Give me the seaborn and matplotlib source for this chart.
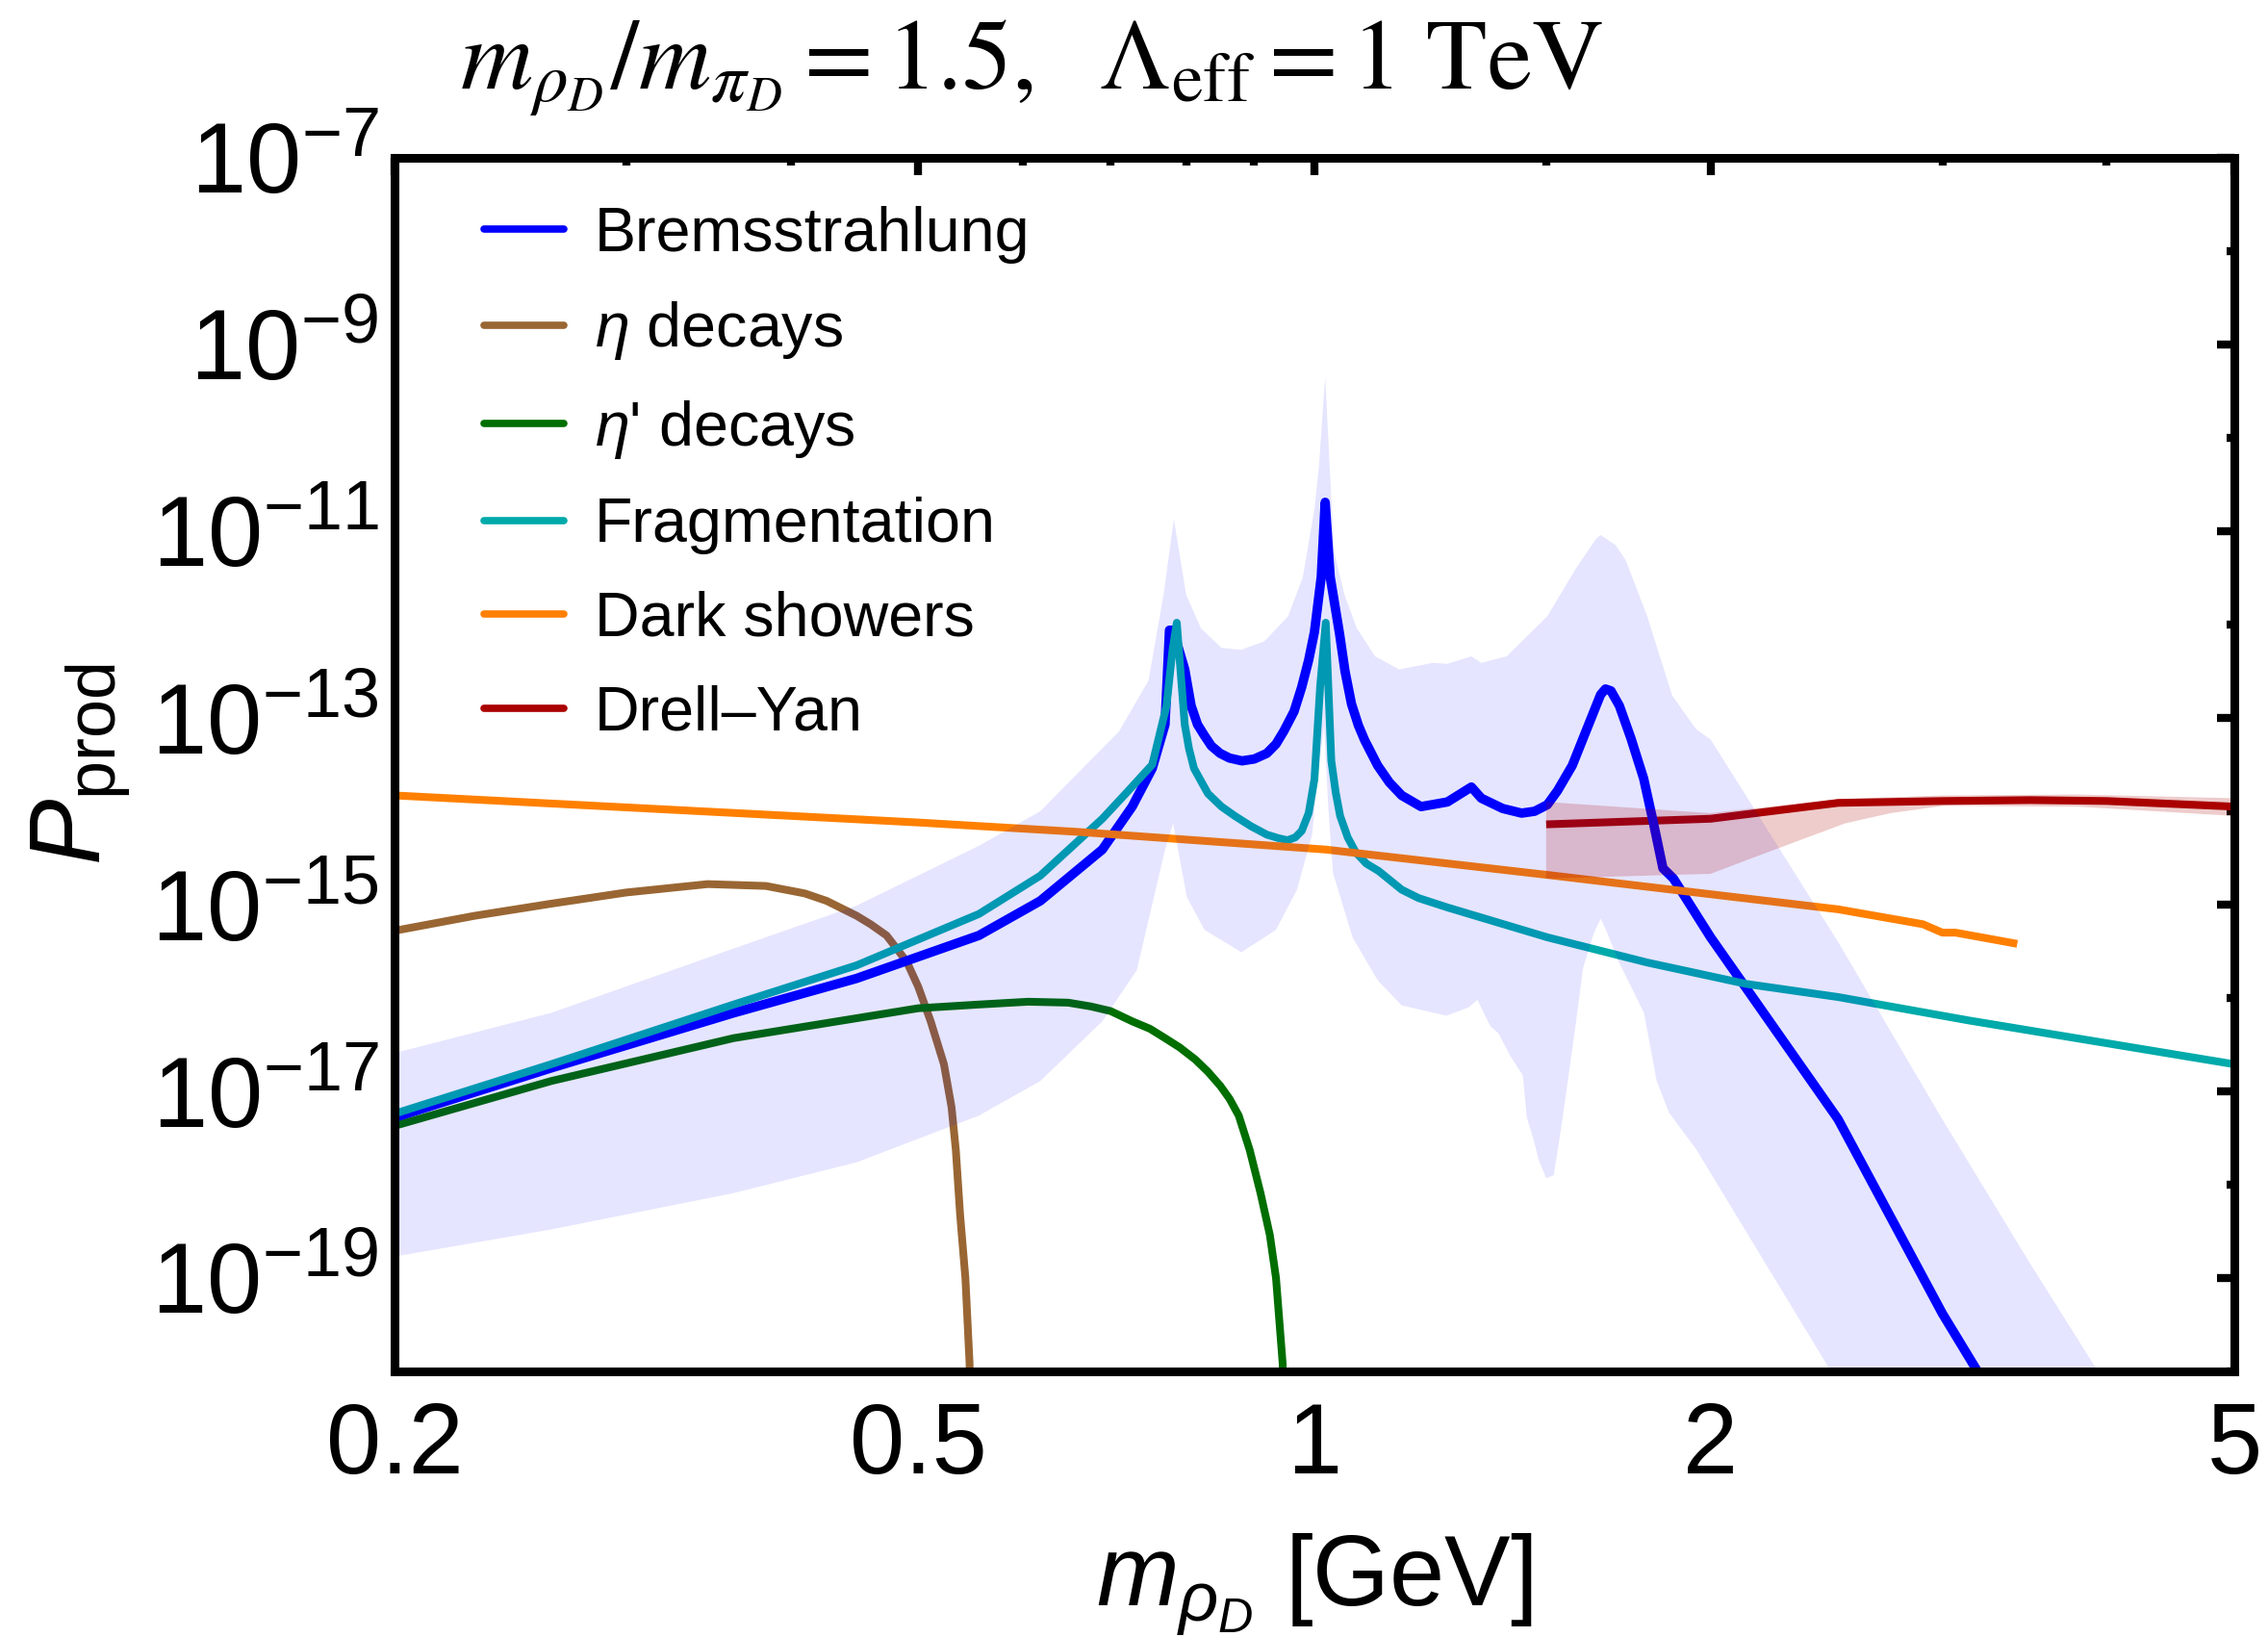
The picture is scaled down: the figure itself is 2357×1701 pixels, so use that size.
import numpy as np
import matplotlib
matplotlib.use("Agg")
import matplotlib.pyplot as plt
import seaborn as sns
from matplotlib.ticker import FixedLocator, FuncFormatter, NullFormatter
from matplotlib.lines import Line2D

# ---------------- data (x in GeV, values as log10 of P_prod) ----------------
brem_x = [0.2, 0.263, 0.362, 0.449, 0.556, 0.619, 0.69, 0.727, 0.753, 0.77, 0.776, 0.781,
          0.797, 0.806, 0.815, 0.825, 0.835, 0.848, 0.862, 0.881, 0.90, 0.92, 0.935, 0.948,
          0.965, 0.978, 0.99, 1.0, 1.012, 1.019, 1.028, 1.045, 1.055, 1.067, 1.08, 1.092,
          1.117, 1.14, 1.165, 1.205, 1.262, 1.316, 1.339, 1.39, 1.437, 1.47, 1.503, 1.53,
          1.57, 1.60, 1.637, 1.65, 1.664, 1.68, 1.705, 1.74, 1.779, 1.81, 1.84, 1.874, 2.0,
          2.5, 3.0, 3.3]
brem_ly = [-17.28, -16.75, -16.16, -15.79, -15.33, -14.96, -14.41, -13.95, -13.54, -13.07, -12.06, -12.06,
           -12.48, -12.87, -13.07, -13.19, -13.30, -13.38, -13.43, -13.46, -13.44, -13.38, -13.28, -13.14,
           -12.93, -12.67, -12.38, -12.08, -11.49, -10.69, -11.49, -12.1, -12.5, -12.85, -13.08, -13.24,
           -13.51, -13.69, -13.83, -13.95, -13.90, -13.74, -13.86, -13.97, -14.02, -14.00, -13.93, -13.78,
           -13.51, -13.22, -12.87, -12.75, -12.69, -12.71, -12.87, -13.22, -13.65, -14.13, -14.61, -14.72, -15.35,
           -17.30, -19.38, -20.34]

eta_x = [0.2, 0.23, 0.263, 0.3, 0.346, 0.383, 0.41, 0.426, 0.449, 0.46, 0.473, 0.49, 0.5, 0.511,
         0.523, 0.53, 0.534, 0.538, 0.543, 0.547, 0.548]
eta_ly = [-15.28, -15.12, -14.99, -14.87, -14.78, -14.80, -14.88, -14.96, -15.12, -15.21, -15.33,
          -15.61, -15.88, -16.25, -16.71, -17.17, -17.63, -18.32, -19.0, -19.92, -21.5]

etap_x = [0.2, 0.263, 0.362, 0.5, 0.556, 0.606, 0.65, 0.676, 0.70, 0.727, 0.75, 0.77, 0.79, 0.812,
          0.83, 0.848, 0.862, 0.876, 0.893, 0.91, 0.925, 0.935, 0.946, 0.948]
etap_ly = [-17.37, -16.89, -16.43, -16.11, -16.07, -16.04, -16.05, -16.09, -16.14, -16.25, -16.33,
           -16.43, -16.53, -16.66, -16.79, -16.94, -17.08, -17.26, -17.63, -18.09, -18.54, -19.0,
           -19.92, -21.5]

frag_x = [0.2, 0.263, 0.362, 0.449, 0.556, 0.619, 0.69, 0.72, 0.753, 0.772, 0.78, 0.786, 0.791,
          0.797, 0.803, 0.81, 0.83, 0.85, 0.87, 0.895, 0.92, 0.94, 0.954, 0.967, 0.978, 0.99, 1.0,
          1.01, 1.02, 1.03, 1.038, 1.046, 1.06, 1.075, 1.095, 1.119, 1.165, 1.2, 1.262, 1.503,
          1.79, 2.13, 2.5, 3.14, 5.0]
frag_ly = [-17.24, -16.71, -16.07, -15.65, -15.10, -14.69, -14.08, -13.80, -13.50, -12.87, -12.28,
           -11.98, -12.48, -13.07, -13.33, -13.54, -13.81, -13.95, -14.05, -14.16, -14.25, -14.29,
           -14.31, -14.28, -14.21, -14.02, -13.66, -12.67, -11.98, -13.46, -13.80, -14.05, -14.28,
           -14.44, -14.56, -14.64, -14.84, -14.93, -15.03, -15.35, -15.62, -15.85, -15.99, -16.24,
           -16.71]

ds_x = [0.2, 0.5, 0.66, 1.02, 1.5, 1.87, 2.5, 2.9, 3.0, 3.07, 3.42]
ds_ly = [-13.83, -14.12, -14.22, -14.41, -14.68, -14.84, -15.05, -15.21, -15.30, -15.30, -15.42]

dy_x = [1.5, 2.0, 2.5, 3.0, 3.5, 4.0, 5.0]
dy_ly = [-14.14, -14.08, -13.91, -13.89, -13.88, -13.89, -13.95]

# Drell-Yan uncertainty band
dyb_up_x = [1.5, 2.0, 2.5, 3.0, 3.8, 5.0]
dyb_up_ly = [-13.90, -14.02, -13.87, -13.83, -13.82, -13.86]
dyb_lo_x = [1.5, 2.0, 2.18, 2.53, 2.74, 3.01, 3.8, 5.0]
dyb_lo_ly = [-14.72, -14.67, -14.47, -14.13, -14.02, -13.94, -13.95, -14.05]

# Bremsstrahlung uncertainty band
bu_x = [0.2, 0.263, 0.362, 0.449, 0.556, 0.619, 0.66, 0.71, 0.748, 0.768, 0.782, 0.799, 0.82, 0.85,
        0.88, 0.916, 0.955, 0.98, 1.0, 1.008, 1.019, 1.027, 1.035, 1.054, 1.077, 1.112, 1.16, 1.23,
        1.262, 1.316, 1.339, 1.4, 1.503, 1.58, 1.637, 1.65, 1.694, 1.724, 1.79, 1.87, 1.95, 2.0,
        2.5, 3.0, 3.5, 4.0]
bu_ly = [-16.59, -16.16, -15.47, -15.01, -14.37, -14.00, -13.60, -13.15, -12.60, -11.68, -10.87,
         -11.68, -12.04, -12.25, -12.27, -12.18, -11.91, -11.49, -10.76, -10.30, -9.34, -10.30,
         -11.22, -11.68, -12.04, -12.34, -12.48, -12.41, -12.42, -12.34, -12.41, -12.34, -11.91,
         -11.40, -11.08, -11.04, -11.15, -11.31, -11.91, -12.76, -13.12, -13.23, -15.40, -17.30,
         -18.85, -20.15]
bl_x = [0.2, 0.263, 0.362, 0.449, 0.556, 0.619, 0.69, 0.733, 0.77, 0.781, 0.8, 0.825, 0.88, 0.935,
        0.97, 0.996, 1.006, 1.017, 1.025, 1.033, 1.069, 1.117, 1.165, 1.26, 1.31, 1.33, 1.36, 1.38,
        1.41, 1.44, 1.45, 1.47, 1.48, 1.50, 1.52, 1.54, 1.56, 1.58, 1.60, 1.63, 1.65, 1.67, 1.70,
        1.78, 1.82, 1.86, 1.95, 2.476, 2.6]
bl_ly = [-18.77, -18.48, -18.09, -17.76, -17.26, -16.89, -16.25, -15.70, -14.41, -14.13, -14.92,
         -15.27, -15.51, -15.27, -14.84, -14.25, -13.60, -13.10, -14.00, -14.66, -15.35, -15.81,
         -16.08, -16.19, -16.10, -16.02, -16.30, -16.38, -16.63, -16.83, -17.28, -17.56, -17.73,
         -17.93, -17.90, -17.39, -16.83, -16.27, -15.68, -15.31, -15.15, -15.31, -15.59, -16.16,
         -16.89, -17.23, -17.62, -20.03, -20.52]

labels = ["Bremsstrahlung", r"$\eta$ decays", r"$\eta$' decays", "Fragmentation",
          "Dark showers", "Drell\u2013Yan"]
colors = ["#0000FF", "#996633", "#006E00", "#00AAAA", "#FF8000", "#AA0000"]
x_major = [0.2, 0.5, 1, 2, 5]
x_minor = [0.3, 0.4, 0.6, 0.7, 0.8, 0.9, 1.5, 3, 4]
y_major_exp = [-7, -9, -11, -13, -15, -17, -19]
y_minor_exp = [-8, -10, -12, -14, -16, -18, -20]

# ---------------- style ----------------
sns.set_style("white")
plt.rcParams["font.family"] = ["Liberation Sans", "DejaVu Sans"]
plt.rcParams["mathtext.fontset"] = "custom"
plt.rcParams["mathtext.rm"] = "Liberation Sans"
plt.rcParams["mathtext.it"] = "Liberation Sans:italic"
plt.rcParams["mathtext.bf"] = "Liberation Sans:bold"
plt.rcParams["axes.unicode_minus"] = True
for k in ["text.color", "axes.labelcolor", "xtick.color", "ytick.color", "axes.edgecolor"]:
    plt.rcParams[k] = "black"

W, H = 2357, 1701
fig = plt.figure(figsize=(W / 100, H / 100), dpi=100)
fig.patch.set_facecolor("white")
L, R, T, B = 410, 2322, 164, 1425
ax = fig.add_axes([L / W, 1 - B / H, (R - L) / W, (B - T) / H])
ax.set_facecolor("white")
ax.set_xscale("log")
ax.set_yscale("log")

def p(v):
    return 10.0 ** np.asarray(v)

lw_main = 7.0
lw = 5.8
series = [
    (dy_x, dy_ly, colors[5], lw),
    (eta_x, eta_ly, colors[1], lw),
    (etap_x, etap_ly, colors[2], lw),
    (brem_x, brem_ly, colors[0], lw_main),
    (frag_x, frag_ly, colors[3], lw),
    (ds_x, ds_ly, colors[4], lw),
]
for xs, lys, c, w in series:
    sns.lineplot(x=np.asarray(xs), y=p(lys), ax=ax, color=c, linewidth=w,
                 estimator=None, errorbar=None, sort=False, legend=False, zorder=3)
for ln in ax.get_lines():
    ln.set_solid_joinstyle("round")
    ln.set_solid_capstyle("butt")

# uncertainty bands drawn on top (translucent)
ax.fill(np.r_[bu_x, bl_x[::-1]], p(np.r_[bu_ly, bl_ly[::-1]]),
        color="#0000FF", alpha=0.1, lw=0, zorder=5)
ax.fill(np.r_[dyb_up_x, dyb_lo_x[::-1]], p(np.r_[dyb_up_ly, dyb_lo_ly[::-1]]),
        color="#AA0000", alpha=0.2, lw=0, zorder=6)

ax.set_xlim(0.2, 5)
ax.set_ylim(1e-20, 1e-7)

# ticks
ax.xaxis.set_major_locator(FixedLocator(x_major))
ax.xaxis.set_minor_locator(FixedLocator(x_minor))
ax.xaxis.set_major_formatter(FuncFormatter(lambda v, pos: "%g" % v))
ax.xaxis.set_minor_formatter(NullFormatter())
ax.yaxis.set_major_locator(FixedLocator([10.0 ** e for e in y_major_exp]))
ax.yaxis.set_minor_locator(FixedLocator([10.0 ** e for e in y_minor_exp]))
ax.yaxis.set_major_formatter(FuncFormatter(lambda v, pos: r"$10^{%d}$" % int(round(np.log10(v)))))
ax.yaxis.set_minor_formatter(NullFormatter())

ax.tick_params(which="both", direction="in", top=True, right=True, color="black",
               labelcolor="black", width=6.0)
ax.tick_params(which="major", length=13)
ax.tick_params(which="minor", length=6)
ax.tick_params(axis="x", which="major", labelsize=74, pad=22)
ax.tick_params(axis="y", which="major", labelsize=74, pad=12)
for s in ax.spines.values():
    s.set_linewidth(6.5)
    s.set_color("black")
    s.set_zorder(10)

# axis labels
ax.set_xlabel(r"$m_{\rho_D}$ [GeV]", fontsize=74, color="black")
ax.xaxis.label.set_va("baseline")
ax.xaxis.set_label_coords(0.5, (B - 1668) / (B - T))
ax.set_ylabel(r"$P_{\mathrm{prod}}$", fontsize=74, color="black")
ax.yaxis.set_label_coords((138 - L) / (R - L), 0.5)

# title
fig.text(478 / W, 1 - 93 / H,
         r"$m_{\rho_D}/m_{\pi_D} = 1.5,\ \ \Lambda_{\mathrm{eff}} = 1\ \mathrm{TeV}$",
         fontsize=75, ha="left", va="baseline", math_fontfamily="stix", color="black")

# legend
handles = [Line2D([], [], color=c, lw=5.5) for c in colors]
leg = ax.legend(handles, labels, loc="upper left",
                bbox_to_anchor=((503 - L) / (R - L), (B - 214) / (B - T)),
                frameon=False, fontsize=46.5, handlelength=1.28, handletextpad=0.5,
                labelspacing=0.58, borderpad=0, borderaxespad=0, labelcolor="black")
leg.set_zorder(20)

fig.savefig("out.png", dpi=100, facecolor="white")
